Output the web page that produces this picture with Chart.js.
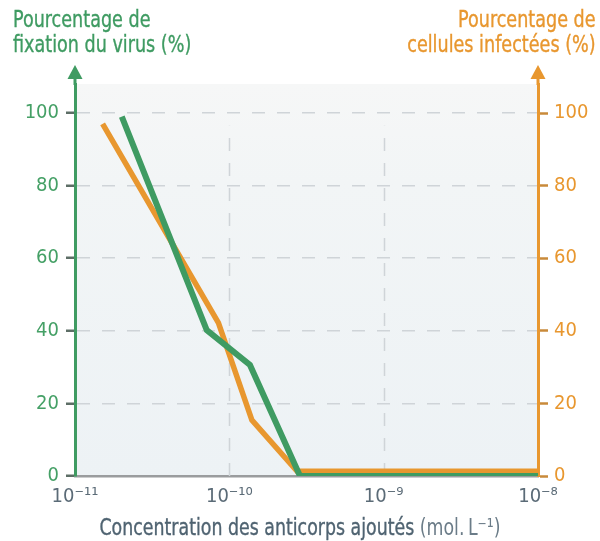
<!DOCTYPE html>
<html>
<head>
<meta charset="utf-8">
<script src="https://cdn.jsdelivr.net/npm/chart.js@4.4.1/dist/chart.umd.min.js"></script>
<style>
  html, body { margin: 0; padding: 0; background: #ffffff; }
  #wrap { position: relative; width: 600px; height: 541px; overflow: hidden; }
  canvas { position: absolute; left: 0; top: 0; }
  .ttl { position: absolute; font-family: 'DejaVu Sans Condensed', 'Liberation Sans Narrow', sans-serif; font-size: 23px; line-height: 25px; white-space: nowrap; -webkit-text-stroke: 0.35px currentColor; }
  #tl { left: 13px; top: 7px; color: #3f9b62; text-align: left; transform: scaleX(0.85); transform-origin: 0 0; }
  #tr { right: 4px; top: 7px; color: #e8972f; text-align: right; transform: scaleX(0.85); transform-origin: 100% 0; }
  #tx { left: 0; width: 600px; top: 515px; text-align: center; color: #4f6371; transform: scaleX(0.84); transform-origin: 50% 0; }
  #tx .u { color: #6b7c88; -webkit-text-stroke: 0; }
</style>
</head>
<body>
<div id="wrap">
  <canvas id="c" width="600" height="541"></canvas>
  <div class="ttl" id="tl">Pourcentage de<br>fixation du virus (%)</div>
  <div class="ttl" id="tr">Pourcentage de<br>cellules infectées (%)</div>
  <div class="ttl" id="tx">Concentration des anticorps ajoutés <span class="u">(mol.&thinsp;L⁻¹)</span></div>
</div>
<script>
// ---- data ----
const fixationX = [2.01e-11, 7.14e-11, 1.36e-10, 2.87e-10, 1e-8];
const fixationY = [99, 40.2, 30.6, 0, 0];
const infectionX = [1.51e-11, 8.5e-11, 1.40e-10, 2.75e-10, 1e-8];
const infectionY = [97, 42.2, 15.4, 1.3, 1.3];
const xTickValues = [1e-11, 1e-10, 1e-9, 1e-8];
const xTickLabels = ['10⁻¹¹', '10⁻¹⁰', '10⁻⁹', '10⁻⁸'];
const yTickValues = [0, 20, 40, 60, 80, 100];

const GREEN = '#3f9b62';
const ORANGE = '#e8972f';
const FONT = "'DejaVu Sans Condensed', 'Liberation Sans Narrow', sans-serif";

function pts(xs, ys) { return xs.map((x, i) => ({ x: x, y: ys[i] })); }

const decor = {
  id: 'decor',
  beforeDraw(chart) {
    const { ctx, chartArea: a } = chart;
    ctx.save();
    const g = ctx.createLinearGradient(0, a.top, 0, a.bottom);
    g.addColorStop(0, '#f6f7f7');
    g.addColorStop(0.25, '#f2f5f6');
    g.addColorStop(1, '#edf2f5');
    ctx.fillStyle = g;
    ctx.fillRect(a.left, a.top, a.right - a.left, a.bottom - a.top);
    ctx.restore();
  },
  beforeDatasetsDraw(chart) {
    const { ctx } = chart;
    const xs = chart.scales.x, ys = chart.scales.y;
    ctx.save();
    ctx.strokeStyle = '#cfd4d8';
    ctx.lineWidth = 1.5;
    ctx.setLineDash([13, 12]);
    [xTickValues[1], xTickValues[2]].forEach(v => {
      const px = Math.round(xs.getPixelForValue(v)) + 0.5;
      ctx.beginPath();
      ctx.moveTo(px, ys.getPixelForValue(0));
      ctx.lineTo(px, ys.getPixelForValue(96.5));
      ctx.stroke();
    });
    ctx.restore();
  },
  afterDraw(chart) {
    const { ctx, chartArea: a } = chart;
    ctx.save();
    [[a.left, GREEN], [a.right, ORANGE]].forEach(([x, col]) => {
      ctx.strokeStyle = col;
      ctx.fillStyle = col;
      ctx.lineWidth = 3;
      ctx.beginPath();
      ctx.moveTo(x, a.top + 1);
      ctx.lineTo(x, 76);
      ctx.stroke();
      ctx.beginPath();
      ctx.moveTo(x, 65);
      ctx.lineTo(x - 7.5, 79);
      ctx.lineTo(x + 7.5, 79);
      ctx.closePath();
      ctx.fill();
    });
    ctx.restore();
  }
};

new Chart(document.getElementById('c'), {
  type: 'line',
  data: {
    datasets: [
      {
        label: 'Fixation du virus',
        data: pts(fixationX, fixationY),
        borderColor: GREEN,
        borderWidth: 6,
        pointRadius: 0,
        tension: 0,
        borderJoinStyle: 'miter',
        borderCapStyle: 'butt',
        yAxisID: 'y',
        order: 0
      },
      {
        label: 'Cellules infectées',
        data: pts(infectionX, infectionY),
        borderColor: ORANGE,
        borderWidth: 5.5,
        pointRadius: 0,
        tension: 0,
        borderJoinStyle: 'miter',
        borderCapStyle: 'butt',
        yAxisID: 'y2',
        order: 1
      }
    ]
  },
  options: {
    responsive: false,
    animation: false,
    events: [],
    layout: { padding: { top: 84, left: 0, right: 0, bottom: 0 } },
    plugins: { legend: { display: false }, tooltip: { enabled: false } },
    scales: {
      x: {
        type: 'logarithmic',
        min: xTickValues[0],
        max: xTickValues[xTickValues.length - 1],
        afterBuildTicks(s) { s.ticks = xTickValues.map(v => ({ value: v })); },
        afterFit(s) { s.height = 65; },
        grid: { display: false, drawTicks: false },
        border: { display: true, color: '#9a9c9e', width: 2.5 },
        ticks: {
          autoSkip: false,
          maxRotation: 0,
          padding: 9,
          color: '#5b6b77',
          font: { family: FONT, size: 20 },
          callback(v) { const i = xTickValues.indexOf(v); return i >= 0 ? xTickLabels[i] : ''; }
        }
      },
      y: {
        position: 'left',
        min: 0,
        max: 108,
        afterBuildTicks(s) { s.ticks = yTickValues.map(v => ({ value: v })); },
        afterFit(s) { s.width = 75; },
        grid: {
          drawOnChartArea: true,
          drawTicks: true,
          tickLength: 9,
          tickWidth: 2.5,
          tickColor: '#5d6e66',
          tickBorderDash: [],
          lineWidth: 1.5,
          color(c) { return c.tick && c.tick.value === 0 ? 'rgba(0,0,0,0)' : '#cfd4d8'; }
        },
        border: { display: true, color: GREEN, width: 3, dash: [13, 12] },
        ticks: { color: '#45a066', padding: 7, font: { family: FONT, size: 20 } }
      },
      y2: {
        position: 'right',
        min: 0,
        max: 108,
        afterBuildTicks(s) { s.ticks = yTickValues.map(v => ({ value: v })); },
        afterFit(s) { s.width = 62; },
        grid: {
          drawOnChartArea: false,
          drawTicks: true,
          tickLength: 10,
          tickWidth: 2.5,
          tickColor: '#c98a3a',
          tickBorderDash: []
        },
        border: { display: true, color: ORANGE, width: 3 },
        ticks: { color: ORANGE, padding: 6, font: { family: FONT, size: 20 } }
      }
    }
  },
  plugins: [decor]
});
</script>
</body>
</html>
